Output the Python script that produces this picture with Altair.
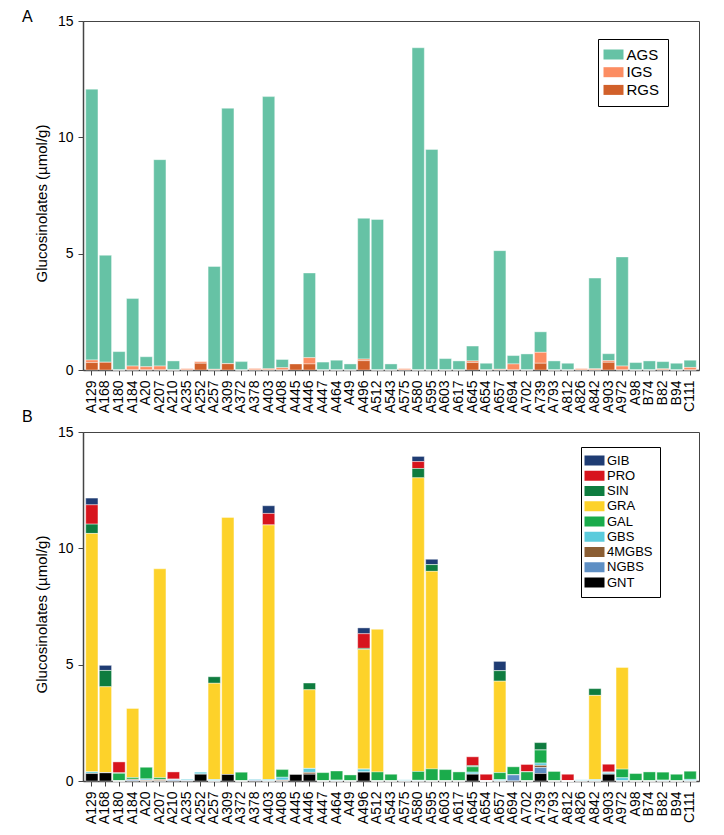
import altair as alt
import pandas as pd

categories = ["A129","A168","A180","A184","A20","A207","A210","A235","A252","A257",
              "A309","A372","A378","A403","A408","A445","A446","A447","A464","A49",
              "A496","A512","A543","A575","A580","A595","A603","A617","A645","A654",
              "A657","A694","A702","A739","A793","A812","A826","A842","A903","A972",
              "A98","B74","B82","B94","C111"]

# Panel A
AGS = [11.64,4.60,0.79,2.90,0.43, 8.87,0.39,0,0,4.42, 10.98,0.36,0,11.70,0.35,
       0,3.64,0.34,0.42,0.26, 6.05,6.47,0.26,0,13.85, 9.48,0.49,0.39,0.64,0.29,
       5.10,0.36,0.69,0.88,0.39, 0.29,0,3.90,0.30,4.69, 0.32,0.39,0.31,0.29,0.31]
IGS = [0.11,0,0,0.17,0.14, 0.17,0,0.06,0.07,0.03, 0,0,0.06,0.05,0.10,
       0,0.27,0,0,0, 0.07,0,0,0.06,0, 0,0,0,0.07,0,
       0.03,0.26,0,0.47,0, 0,0.06,0.05,0.07,0.17, 0,0,0.05,0,0.11]
RGS = [0.32,0.33,0,0,0, 0,0,0,0.29,0, 0.27,0,0,0,0,
       0.26,0.26,0,0,0, 0.40,0,0,0,0, 0,0,0,0.32,0,
       0,0,0,0.29,0, 0,0,0,0.33,0, 0,0,0,0,0]

# Panel B
GNT = [0.32,0.35,0,0,0, 0,0,0,0.29,0, 0.28,0,0,0,0, 0.28,0.29,0,0,0,
       0.38,0,0,0,0, 0,0,0,0.29,0, 0,0,0,0.32,0, 0,0,0,0.29,0, 0,0,0,0,0]
NGBS = [0,0,0,0.04,0, 0,0.04,0.02,0,0, 0,0,0.03,0,0, 0,0,0,0,0,
        0,0,0,0,0, 0,0,0,0,0, 0,0.26,0,0.26,0, 0,0,0,0,0, 0,0,0,0,0]
MGBS4 = [0,0,0,0.03,0.04, 0.06,0,0,0,0, 0,0,0,0,0.04, 0,0.08,0,0,0,
         0,0,0,0,0, 0,0,0,0,0, 0,0,0,0.09,0, 0,0,0,0,0, 0,0,0,0,0]
GBS = [0.07,0,0,0,0.05, 0,0.03,0.05,0.09,0.06, 0,0,0.04,0.06,0.12, 0,0.17,0,0.04,0,
       0.13,0,0,0.05,0.03, 0,0,0,0.09,0, 0.06,0,0,0.10,0, 0,0.05,0.06,0.07,0.14,
       0,0,0.04,0,0.07]
GAL = [0,0,0.33,0.08,0.50, 0.08,0,0,0,0, 0,0.38,0,0,0.33, 0,0,0.36,0.39,0.26,
       0,0.39,0.29,0,0.38, 0.52,0.49,0.39,0.23,0, 0.30,0.35,0.39,0.56,0.41,
       0,0,0,0,0.37, 0.32,0.39,0.34,0.29,0.35]
GRA = [10.25,3.70,0,2.97,0, 8.98,0,0,0,4.14, 11.05,0,0,10.94,0, 0,3.38,0,0,0,
       5.14,6.13,0,0,12.62, 8.49,0,0,0,0, 3.93,0,0,0,0, 0,0,3.62,0,4.37, 0,0,0,0,0]
SIN = [0.40,0.70,0.02,0,0, 0,0,0,0,0.28, 0,0,0,0,0, 0,0.29,0,0,0,
       0.05,0,0,0,0.40, 0.29,0,0,0.05,0, 0.45,0,0,0.32,0, 0,0,0.29,0.03,0, 0,0,0,0,0]
PRO = [0.83,0,0.47,0,0, 0,0.32,0,0,0, 0,0,0,0.50,0, 0,0,0,0,0,
       0.63,0,0,0,0.30, 0,0,0,0.38,0.29, 0,0,0.32,0,0, 0.29,0,0,0.33,0, 0,0,0,0,0]
GIB = [0.29,0.22,0,0,0, 0,0,0,0,0, 0,0,0,0.33,0, 0,0,0,0,0,
       0.25,0,0,0,0.22, 0.23,0,0,0,0, 0.40,0,0,0,0, 0,0,0,0,0, 0,0,0,0,0]

groupsA = ["AGS", "IGS", "RGS"]
colorsA = ["#66c2a5", "#fc8d62", "#d1602a"]
seriesA = {"AGS": AGS, "IGS": IGS, "RGS": RGS}
stackA = {"RGS": 0, "IGS": 1, "AGS": 2}

groupsB = ["GIB", "PRO", "SIN", "GRA", "GAL", "GBS", "4MGBS", "NGBS", "GNT"]
colorsB = ["#1f3c73", "#d7141d", "#0e7c3f", "#fdd22a", "#1aab4b", "#5bcbdc",
           "#8b5e34", "#5e8fc4", "#000000"]
seriesB = {"GIB": GIB, "PRO": PRO, "SIN": SIN, "GRA": GRA, "GAL": GAL,
           "GBS": GBS, "4MGBS": MGBS4, "NGBS": NGBS, "GNT": GNT}
stackB = {g: 8 - i for i, g in enumerate(groupsB)}

rowsA = [{"cat": c, "grp": g, "val": v, "ord": stackA[g]}
         for g in groupsA for c, v in zip(categories, seriesA[g])]
rowsB = [{"cat": c, "grp": g, "val": v, "ord": stackB[g]}
         for g in groupsB for c, v in zip(categories, seriesB[g])]
dfA = pd.DataFrame(rowsA)
dfB = pd.DataFrame(rowsB)

FONT = "Liberation Sans"
W, H = 616, 349
RECT = "M-2,-1L2,-1L2,1L-2,1Z"


def panel(df, groups, colors, letter, letter_y, lx, ly, lfs, lpad, lrow, loff):
    bars = alt.Chart(df).mark_bar(stroke="white", strokeWidth=0.4).encode(
        x=alt.X("cat:N", sort=categories, title=None,
                scale=alt.Scale(paddingInner=0.1, paddingOuter=0.2),
                axis=alt.Axis(labelAngle=-90, labelFontSize=14, labelFont=FONT,
                              labelColor="black", tickColor="#444", tickSize=5,
                              domainColor="#444", domainWidth=1.5, labelPadding=5,
                              labelBaseline="middle", labelAlign="right")),
        y=alt.Y("val:Q", stack="zero", title="Glucosinolates (µmol/g)",
                scale=alt.Scale(domain=[0, 15], nice=False),
                axis=alt.Axis(values=[0, 5, 10, 15], grid=False, labelFontSize=14,
                              labelFont=FONT, labelColor="black", titleFont=FONT,
                              titleFontSize=15, titleFontWeight="normal",
                              titleColor="black", titlePadding=8, titleY=182,
                              tickColor="#444",
                              tickSize=5, domainColor="#444", domainWidth=1.5,
                              labelPadding=5)),
        color=alt.Color("grp:N", scale=alt.Scale(domain=groups, range=colors),
                        legend=alt.Legend(title=None, orient="none", legendX=lx,
                                          legendY=ly, strokeColor="black",
                                          padding=lpad, rowPadding=lrow,
                                          symbolType=RECT, symbolSize=100,
                                          symbolStrokeWidth=0, symbolOpacity=1,
                                          labelFontSize=lfs, labelFont=FONT,
                                          labelColor="black", labelOffset=loff)),
        order=alt.Order("ord:Q", sort="ascending"),
    )
    label = alt.Chart(pd.DataFrame({"t": [letter]})).mark_text(
        align="left", baseline="alphabetic", fontSize=16, font=FONT, color="black"
    ).encode(text="t:N", x=alt.value(-61), y=alt.value(letter_y))
    return alt.layer(bars, label).properties(width=W, height=H)


chartA = panel(dfA, groupsA, colorsA, "A", 0.5, 515, 18, 15, 8, 1.7, 5.5)
chartB = panel(dfB, groupsB, colorsB, "B", -9.7, 498, 15, 13, 7, 1.25, 6)

chart = alt.vconcat(chartA, chartB, spacing=-6).resolve_scale(
    color="independent").configure_view(
    stroke="#444", strokeWidth=1).properties(
    padding={"left": 13, "top": 0, "right": 5, "bottom": 5})

chart.save("out.html", embed_options={"renderer": "svg", "actions": False})
